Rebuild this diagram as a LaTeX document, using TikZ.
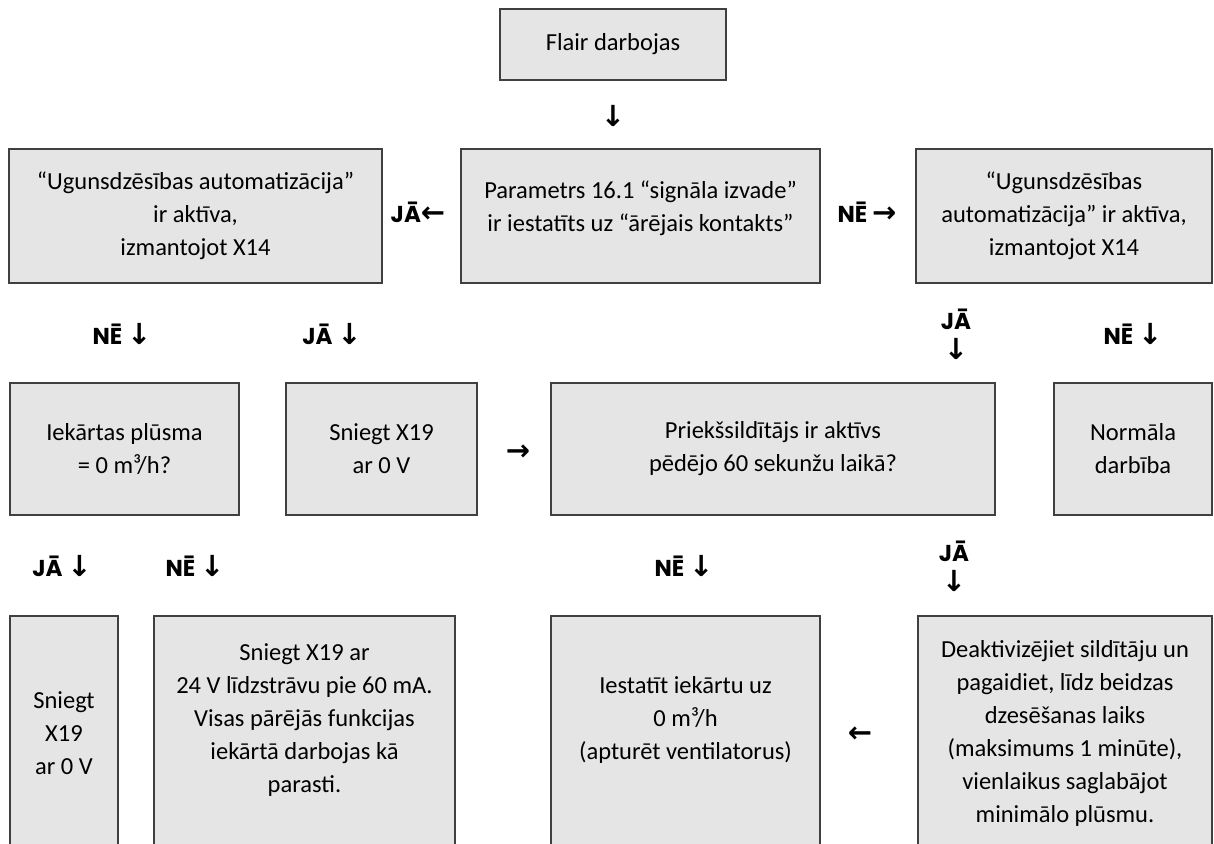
\documentclass[tikz,border=0pt]{standalone}
\usepackage{fontspec}
\setmainfont{Carlito}
\newfontfamily\lblfont{Poppins}
\newfontfamily\arrfont{DejaVu Sans}
\newcommand{\arrdown}{{\arrfont\bfseries\fontsize{29}{29}\selectfont ↓}}
\newcommand{\arrleft}{{\arrfont\bfseries\fontsize{29}{29}\selectfont ←}}
\newcommand{\arrright}{{\arrfont\bfseries\fontsize{29}{29}\selectfont →}}

\begin{document}
\begin{tikzpicture}[x=1pt,y=-1pt,
    box/.style={draw=black!75,fill=black!10,line width=1.2pt,align=center,
        inner sep=0pt,font=\fontsize{24.5}{33}\selectfont},
    txt/.style={align=center,inner sep=0pt,font=\fontsize{24.5}{33}\selectfont},
    lbl/.style={align=center,inner sep=0pt,
        font=\fontsize{23}{30}\selectfont\lblfont\bfseries}]
    \path[use as bounding box] (0,0) rectangle (1214,843);
    \clip (0,0) rectangle (1214,843);

    % first row
    \node[box,minimum width=226pt,minimum height=71pt] (flair) at (613,44.5) {Flair darbojas};
    \node[lbl] (start) at (613,116) {\arrdown};

    % second row
    \node[box,minimum width=373pt,minimum height=134pt] (fireL) at (195.5,216)
        {“Ugunsdzēsības automatizācija”\\ir aktīva,\\izmantojot X14};
    \node[box,minimum width=359pt,minimum height=134pt] (param) at (640.5,216) {};
    \node[txt] (paramText) at ([yshift=8pt]param.center)
        {Parametrs 16.1 “signāla izvade”\\ir iestatīts uz “ārējais kontakts”};
    \node[box,minimum width=296pt,minimum height=134pt] (fireR) at (1064,216)
        {“Ugunsdzēsības\\automatizācija” ir aktīva,\\izmantojot X14};
    \node[lbl] (paramYes) at (418,212) {JĀ\arrleft};
    \node[lbl] (paramNo) at (867,212) {NĒ \arrright};

    \node[lbl] (fireLNo) at (122,334) {NĒ \arrdown};
    \node[lbl] (fireLYes) at (332,334) {JĀ \arrdown};
    \node[lbl] (fireRYes) at (956,334) {JĀ\\\arrdown};
    \node[lbl] (fireRNo) at (1133,334) {NĒ \arrdown};

    % third row
    \node[box,minimum width=229pt,minimum height=132pt] (flow) at (124.5,449)
        {Iekārtas plūsma\\= 0 m³/h?};
    \node[box,minimum width=191pt,minimum height=132pt] (zeroA) at (381.5,449)
        {Sniegt X19\\ar 0 V};
    \node[lbl] (toHeater) at (518,453) {\arrright};
    \node[box,minimum width=444pt,minimum height=132pt] (heater) at (773,449)
        {Priekšsildītājs ir aktīvs\\pēdējo 60 sekunžu laikā?};
    \node[box,minimum width=158pt,minimum height=132pt] (normal) at (1133,449)
        {Normāla\\darbība};

    \node[lbl] (flowYes) at (62,566) {JĀ \arrdown};
    \node[lbl] (flowNo) at (195,566) {NĒ \arrdown};
    \node[lbl] (heaterNo) at (684,566) {NĒ \arrdown};
    \node[lbl] (heaterYes) at (954,566) {JĀ\\\arrdown};

    % fourth row
    \node[box,minimum width=108pt,minimum height=234pt] (zeroB) at (64,733)
        {Sniegt\\X19\\ar 0 V};
    \node[box,minimum width=301pt,minimum height=234pt] (dc) at (304.5,733) {};
    \node[txt] (dcText) at ([yshift=13pt]dc.center)
        {Sniegt X19 ar\\24 V līdzstrāvu pie 60 mA.\\Visas pārējās funkcijas\\iekārtā darbojas kā\\parasti.};
    \node[box,minimum width=269pt,minimum height=234pt] (stop) at (685.5,733) {};
    \node[txt] (stopText) at ([yshift=13pt]stop.center)
        {Iestatīt iekārtu uz\\0 m³/h\\(apturēt ventilatorus)};
    \node[lbl] (toStop) at (860,735) {\arrleft};
    \node[box,minimum width=294pt,minimum height=234pt] (cool) at (1065,733)
        {Deaktivizējiet sildītāju un\\pagaidiet, līdz beidzas\\dzesēšanas laiks\\(maksimums 1 minūte),\\vienlaikus saglabājot\\minimālo plūsmu.};
\end{tikzpicture}
\end{document}
